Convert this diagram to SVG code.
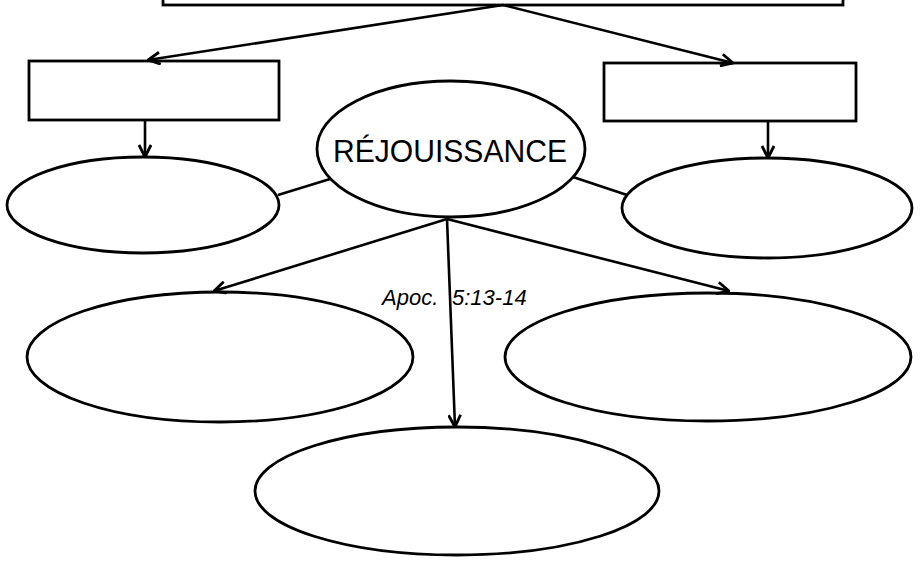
<svg xmlns="http://www.w3.org/2000/svg" width="921" height="562" viewBox="0 0 921 562">
<style>
.shape{fill:none;stroke:#000;stroke-width:2.8}
.conn{fill:none;stroke:#000;stroke-width:2.6}
.arrow{fill:none;stroke:#000;stroke-width:2.6;marker-end:url(#head)}
.hand{font-family:"Liberation Sans","DejaVu Sans",sans-serif;fill:#000}
</style>
<defs>
<marker id="head" viewBox="0 0 14 14" refX="13" refY="7" markerWidth="14" markerHeight="14" markerUnits="userSpaceOnUse" orient="auto">
<path d="M1,1 L13,7 L1,13" fill="none" stroke="#000" stroke-width="2.8"/>
</marker>
</defs>
<rect width="921" height="562" fill="#fff"/>
<g id="top-box"><rect class="shape" x="163" y="-20" width="680" height="25"/></g>
<g id="left-box"><rect class="shape" x="29" y="61" width="250" height="59"/></g>
<g id="right-box"><rect class="shape" x="604" y="63" width="252" height="58"/></g>
<g id="left-ellipse"><ellipse class="shape" cx="143" cy="205" rx="136" ry="48"/></g>
<g id="right-ellipse"><ellipse class="shape" cx="767" cy="208" rx="145" ry="50"/></g>
<g id="center"><ellipse class="shape" cx="451" cy="149" rx="134" ry="68"/>
<text class="hand" x="333" y="162" font-size="32" textLength="234" lengthAdjust="spacingAndGlyphs">RÉJOUISSANCE</text></g>
<g id="bottom-left-ellipse"><ellipse class="shape" cx="220" cy="357" rx="193" ry="65"/></g>
<g id="bottom-right-ellipse"><ellipse class="shape" cx="708" cy="357" rx="203" ry="64"/></g>
<g id="bottom-center-ellipse"><ellipse class="shape" cx="457" cy="491" rx="202" ry="64"/></g>
<g id="connectors">
<line class="arrow" x1="503" y1="5" x2="148" y2="60"/>
<line class="arrow" x1="503" y1="5" x2="733" y2="63"/>
<line class="arrow" x1="145" y1="120" x2="145" y2="157"/>
<line class="arrow" x1="768" y1="121" x2="768" y2="158"/>
<line class="conn" x1="278" y1="195" x2="330" y2="179"/>
<line class="conn" x1="573" y1="177" x2="627" y2="195"/>
<line class="arrow" x1="447" y1="219" x2="214" y2="291"/>
<line class="arrow" x1="447" y1="219" x2="729" y2="291"/>
<line class="arrow" x1="447" y1="219" x2="455" y2="427"/>
<text class="hand" y="305" font-size="22" font-style="italic"><tspan x="382">Apoc.</tspan><tspan x="452">5:13-14</tspan></text>
</g>
</svg>
